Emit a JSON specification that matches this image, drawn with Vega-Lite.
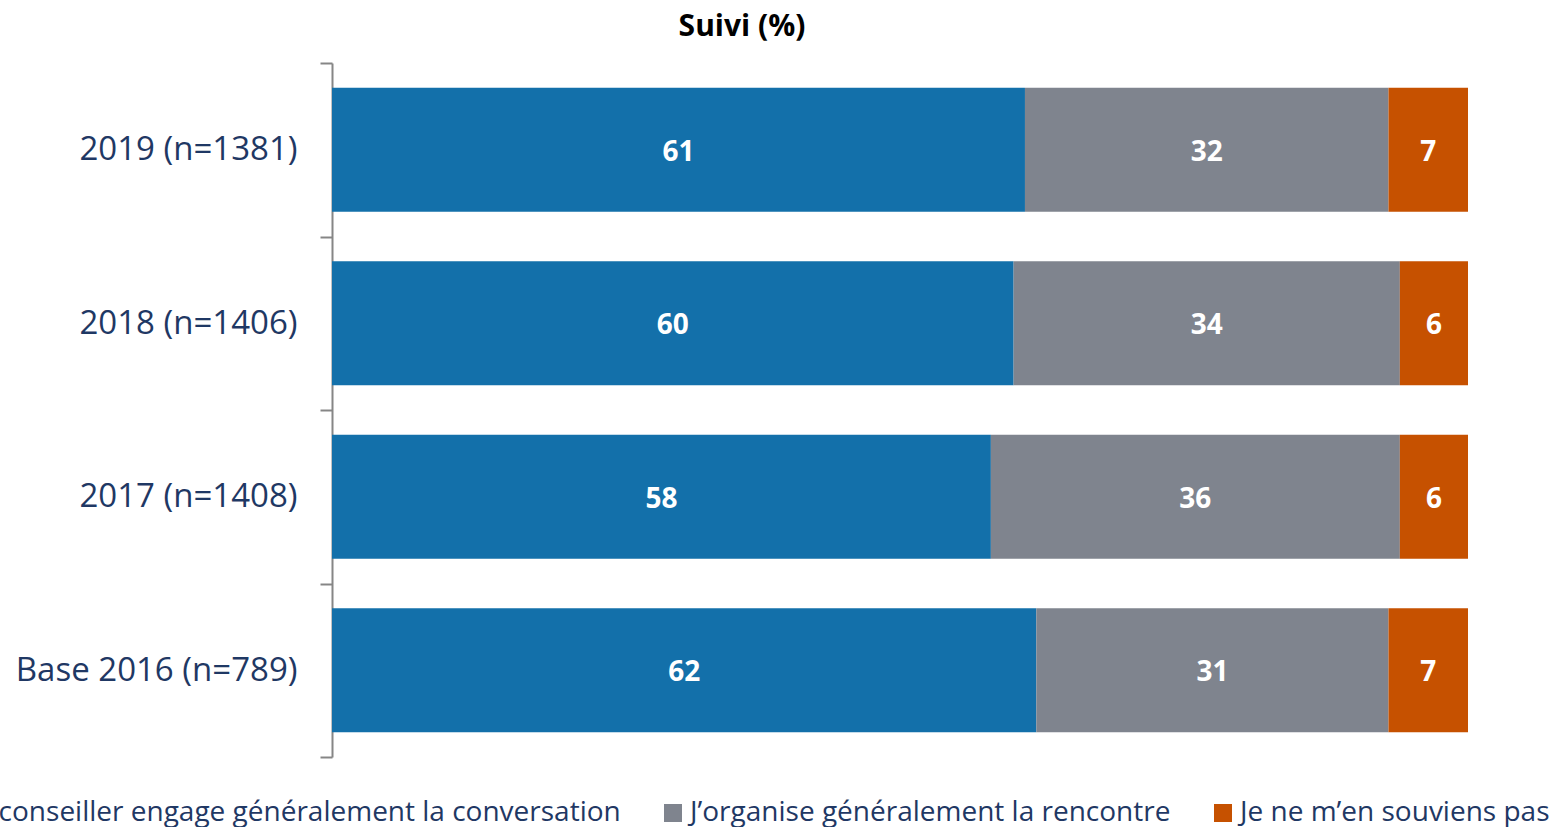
{
  "$schema": "https://vega.github.io/schema/vega-lite/v6.json",
  "width": 1136,
  "height": 694,
  "autosize": {"type": "none"},
  "padding": {"left": 332, "top": 63, "right": 85, "bottom": 70},
  "background": "white",
  "config": {"view": {"stroke": null}},
  "title": {
    "text": "Suivi (%)",
    "font": "Open Sans",
    "fontSize": 30,
    "fontWeight": "bold",
    "color": "#000000",
    "anchor": "middle",
    "frame": "group",
    "dx": -158,
    "offset": 5
  },
  "data": {
    "values": [
      {"annee": "2019 (n=1381)", "reponse": "Le conseiller engage généralement la conversation", "ordre": 1, "valeur": 61},
      {"annee": "2019 (n=1381)", "reponse": "J’organise généralement la rencontre", "ordre": 2, "valeur": 32},
      {"annee": "2019 (n=1381)", "reponse": "Je ne m’en souviens pas", "ordre": 3, "valeur": 7},
      {"annee": "2018 (n=1406)", "reponse": "Le conseiller engage généralement la conversation", "ordre": 1, "valeur": 60},
      {"annee": "2018 (n=1406)", "reponse": "J’organise généralement la rencontre", "ordre": 2, "valeur": 34},
      {"annee": "2018 (n=1406)", "reponse": "Je ne m’en souviens pas", "ordre": 3, "valeur": 6},
      {"annee": "2017 (n=1408)", "reponse": "Le conseiller engage généralement la conversation", "ordre": 1, "valeur": 58},
      {"annee": "2017 (n=1408)", "reponse": "J’organise généralement la rencontre", "ordre": 2, "valeur": 36},
      {"annee": "2017 (n=1408)", "reponse": "Je ne m’en souviens pas", "ordre": 3, "valeur": 6},
      {"annee": "Base 2016 (n=789)", "reponse": "Le conseiller engage généralement la conversation", "ordre": 1, "valeur": 62},
      {"annee": "Base 2016 (n=789)", "reponse": "J’organise généralement la rencontre", "ordre": 2, "valeur": 31},
      {"annee": "Base 2016 (n=789)", "reponse": "Je ne m’en souviens pas", "ordre": 3, "valeur": 7}
    ]
  },
  "transform": [
    {"stack": "valeur", "groupby": ["annee"], "sort": [{"field": "ordre", "order": "ascending"}], "as": ["v0", "v1"]},
    {"calculate": "(datum.v0 + datum.v1) / 2", "as": "milieu"}
  ],
  "encoding": {
    "y": {
      "field": "annee",
      "type": "nominal",
      "sort": ["2019 (n=1381)", "2018 (n=1406)", "2017 (n=1408)", "Base 2016 (n=789)"],
      "scale": {"paddingInner": 0, "paddingOuter": 0},
      "axis": {
        "title": null,
        "domainColor": "#868686",
        "domainWidth": 2,
        "tickColor": "#868686",
        "tickWidth": 2,
        "tickSize": 12,
        "tickBand": "extent",
        "labelFont": "Open Sans",
        "labelFontSize": 33,
        "labelColor": "#1F3864",
        "labelPadding": 23,
        "labelLimit": 500
      }
    }
  },
  "layer": [
    {
      "mark": {"type": "bar", "height": {"band": 0.715}},
      "encoding": {
        "x": {"field": "v0", "type": "quantitative", "scale": {"domain": [0, 100], "nice": false, "zero": true}, "axis": null},
        "x2": {"field": "v1"},
        "color": {
          "field": "reponse",
          "type": "nominal",
          "scale": {
            "domain": ["Le conseiller engage généralement la conversation", "J’organise généralement la rencontre", "Je ne m’en souviens pas"],
            "range": ["#1370AA", "#7F848E", "#C65100"]
          },
          "legend": {
            "orient": "none",
            "legendX": -402,
            "legendY": 736,
            "direction": "horizontal",
            "title": null,
            "symbolType": "square",
            "symbolSize": 324,
            "symbolStrokeWidth": 0,
            "labelFont": "Open Sans",
            "labelFontSize": 28,
            "labelColor": "#1F3864",
            "labelLimit": 1000,
            "labelOffset": 3,
            "columnPadding": 38,
            "padding": 0
          }
        }
      }
    },
    {
      "mark": {"type": "text", "font": "Open Sans", "fontSize": 28, "fontWeight": "bold", "color": "#FFFFFF", "align": "center", "baseline": "middle", "dy": 3},
      "encoding": {
        "x": {"field": "milieu", "type": "quantitative"},
        "text": {"field": "valeur", "type": "quantitative"}
      }
    }
  ]
}
